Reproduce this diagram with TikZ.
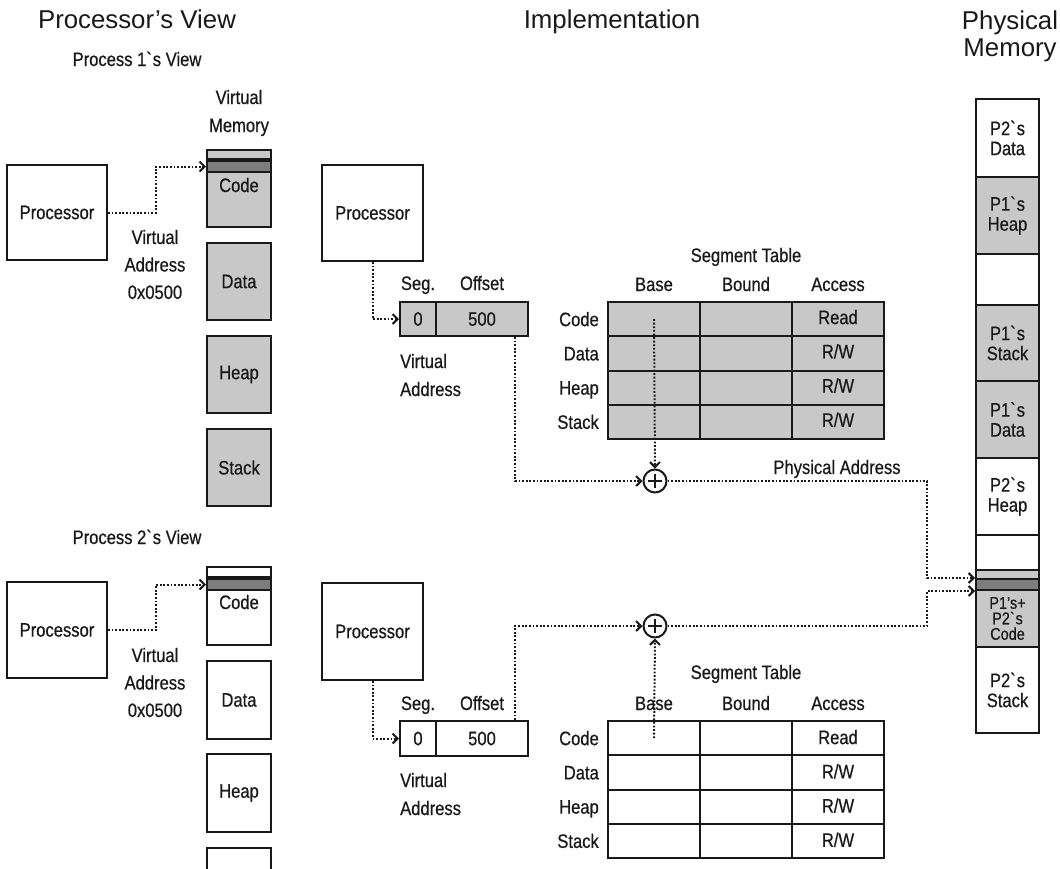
\documentclass[tikz,border=0pt]{standalone}
\usepackage{fontspec}
\setmainfont[FakeStretch=0.85,FakeBold=0.6]{Liberation Sans}
\newfontfamily\titlefont{Liberation Sans}
\usetikzlibrary{arrows.meta,calc}
\definecolor{lgray}{RGB}{200,200,200}
\definecolor{dgray}{RGB}{125,125,125}
\definecolor{ink}{RGB}{25,25,25}
\newcommand\rw{R/W}
\newcommand\bq{\textasciigrave}
\tikzset{
  txt/.style={font=\fontsize{19.5}{23}\selectfont, text=ink, inner sep=0pt},
  ttl/.style={font=\titlefont\fontsize{25.8}{30}\selectfont, text=ink, inner sep=0pt},
  bx/.style={draw=ink, line width=2pt, inner sep=0pt, font=\fontsize{19.5}{20}\selectfont, text=ink, align=center},
  gbx/.style={bx, fill=lgray},
  wbx/.style={bx, fill=white},
  dbx/.style={bx, fill=dgray},
  dots/.style={draw=ink, line width=2pt, dash pattern=on 1.8pt off 1.8pt},
  darr/.style={dots, -{Straight Barb[length=5pt,width=10pt,line width=2pt]}},
  plusnode/.style={draw=ink, line width=2pt, circle, minimum size=23pt, inner sep=0pt, fill=white},
  pm/.style={minimum width=63pt},
  cellg/.style={gbx, minimum width=92pt, minimum height=34.25pt},
  cellw/.style={wbx, minimum width=92pt, minimum height=34.25pt},
}
\begin{document}
\begin{tikzpicture}[x=1pt,y=-1pt]
\useasboundingbox (0,0) rectangle (1060,868);

% ---------- titles ----------
\node[ttl, anchor=base] (tProc) at (137,28) {Processor’s View};
\node[ttl, anchor=base] (tImpl) at (612,28) {Implementation};
\node[ttl, anchor=base] (tPhys1) at (1010,29) {Physical};
\node[ttl, anchor=base] (tPhys2) at (1010,56) {Memory};

% ---------- process 1 view ----------
\node[txt, anchor=base] (p1title) at (137,66) {Process 1\bq s View};
\node[txt, anchor=base] (p1vm1) at (239,104) {Virtual};
\node[txt, anchor=base] (p1vm2) at (239,132) {Memory};
\node[wbx, minimum width=100pt, minimum height=95pt] (p1proc) at (57,212.5) {Processor};
\node[gbx, minimum width=64pt, minimum height=77pt] (p1code) at (239,188.5) {};
\node[gbx, minimum width=64pt, minimum height=9pt, anchor=north] (p1strip) at (p1code.north) {};
\node[dbx, minimum width=64pt, minimum height=11pt, anchor=north] (p1band) at (p1strip.south) {};
\node[txt, anchor=base] (p1codel) at (239,192) {Code};
\node[gbx, minimum width=64pt, minimum height=77pt] (p1data) at (239,281.5) {Data};
\node[gbx, minimum width=64pt, minimum height=77pt] (p1heap) at (239,374.5) {Heap};
\node[gbx, minimum width=64pt, minimum height=77pt] (p1stack) at (239,467.5) {Stack};
\node[txt, align=center, font=\fontsize{19.5}{27.5}\selectfont] (p1va) at (155,264.5) {Virtual\\Address\\0x0500};
\draw[darr] (p1proc.east) -- ++(48,0) |- (p1band.west);

% ---------- process 2 view ----------
\node[txt, anchor=base] (p2title) at (137,544) {Process 2\bq s View};
\node[wbx, minimum width=100pt, minimum height=96pt] (p2proc) at (57,630) {Processor};
\node[wbx, minimum width=64pt, minimum height=78pt] (p2code) at (239,606) {};
\node[wbx, minimum width=64pt, minimum height=10pt, anchor=north] (p2strip) at (p2code.north) {};
\node[dbx, minimum width=64pt, minimum height=11pt, anchor=north] (p2band) at (p2strip.south) {};
\node[txt, anchor=base] (p2codel) at (239,609) {Code};
\node[wbx, minimum width=64pt, minimum height=78pt] (p2data) at (239,700) {Data};
\node[wbx, minimum width=64pt, minimum height=78pt] (p2heap) at (239,793) {Heap};
\begin{scope}
  \clip (0,0) rectangle (1060,868);
  \node[wbx, minimum width=64pt, minimum height=78pt] (p2stack) at (239,887) {};
\end{scope}
\node[txt, align=center, font=\fontsize{19.5}{27.5}\selectfont] (p2va) at (155,682.5) {Virtual\\Address\\0x0500};
\draw[darr] (p2proc.east) -- ++(48,0) |- (p2band.west);

% ---------- implementation, process 1 ----------
\node[wbx, minimum width=101pt, minimum height=96pt] (i1proc) at (372.5,213) {Processor};
\node[txt, anchor=base] (i1segl) at (418,290) {Seg.};
\node[txt, anchor=base] (i1offl) at (482,290) {Offset};
\node[gbx, minimum width=36pt, minimum height=34pt] (i1seg) at (418,319) {0};
\node[gbx, minimum width=92pt, minimum height=34pt] (i1off) at (482,319) {500};
\node[txt, anchor=base west] (i1va1) at (400,368) {Virtual};
\node[txt, anchor=base west] (i1va2) at (400,396) {Address};
\node[txt, anchor=base] (t1title) at (746,262) {Segment Table};
\node[txt, anchor=base] (t1h1) at (654,291) {Base};
\node[txt, anchor=base] (t1h2) at (746,291) {Bound};
\node[txt, anchor=base] (t1h3) at (838,291) {Access};
\foreach \lab/\acc [count=\i] in {Code/Read,Data/\rw,Heap/\rw,Stack/\rw}{
  \pgfmathsetmacro\yy{302+34.25*(\i-0.5)}
  \node[cellg] (ta\i-b) at (654,\yy) {};
  \node[cellg] (ta\i-d) at (746,\yy) {};
  \node[cellg] (ta\i-a) at (838,\yy) {};
  \node[txt] (ta\i-at) at (838,\yy-2) {\acc};
  \node[txt, anchor=base east] (ta\i-l) at (599,\yy+7) {\lab};
}
\node[plusnode] (i1plus) at (655,481) {};
\draw[ink, line width=1.8pt] ([xshift=-7pt]i1plus.center) -- ([xshift=7pt]i1plus.center)
  ([yshift=-7pt]i1plus.center) -- ([yshift=7pt]i1plus.center);
\node[txt, anchor=base] (physaddr) at (837,474) {Physical Address};

% ---------- implementation, process 2 ----------
\node[wbx, minimum width=101pt, minimum height=97pt] (i2proc) at (372.5,631.5) {Processor};
\node[txt, anchor=base] (i2segl) at (418,710) {Seg.};
\node[txt, anchor=base] (i2offl) at (482,710) {Offset};
\node[wbx, minimum width=36pt, minimum height=35pt] (i2seg) at (418,738.5) {0};
\node[wbx, minimum width=92pt, minimum height=35pt] (i2off) at (482,738.5) {500};
\node[txt, anchor=base west] (i2va1) at (400,787) {Virtual};
\node[txt, anchor=base west] (i2va2) at (400,815) {Address};
\node[txt, anchor=base] (t2title) at (746,679) {Segment Table};
\node[txt, anchor=base] (t2h1) at (654,710) {Base};
\node[txt, anchor=base] (t2h2) at (746,710) {Bound};
\node[txt, anchor=base] (t2h3) at (838,710) {Access};
\foreach \lab/\acc [count=\i] in {Code/Read,Data/\rw,Heap/\rw,Stack/\rw}{
  \pgfmathsetmacro\yy{721+34.25*(\i-0.5)}
  \node[cellw] (tb\i-b) at (654,\yy) {};
  \node[cellw] (tb\i-d) at (746,\yy) {};
  \node[cellw] (tb\i-a) at (838,\yy) {};
  \node[txt] (tb\i-at) at (838,\yy-1) {\acc};
  \node[txt, anchor=base east] (tb\i-l) at (599,\yy+7) {\lab};
}
\node[plusnode] (i2plus) at (655,626) {};
\draw[ink, line width=1.8pt] ([xshift=-7pt]i2plus.center) -- ([xshift=7pt]i2plus.center)
  ([yshift=-7pt]i2plus.center) -- ([yshift=7pt]i2plus.center);

% ---------- physical memory ----------
\node[wbx, pm, minimum height=78pt] (pm1) at (1007.5,138) {P2\bq s\\Data};
\node[gbx, pm, minimum height=77pt] (pm2) at (1007.5,215.5) {P1\bq s\\Heap};
\node[wbx, pm, minimum height=51pt] (pm3) at (1007.5,279.5) {};
\node[gbx, pm, minimum height=76pt] (pm4) at (1007.5,343) {P1\bq s\\Stack};
\node[gbx, pm, minimum height=77pt] (pm5) at (1007.5,419.5) {P1\bq s\\Data};
\node[wbx, pm, minimum height=77pt] (pm6) at (1007.5,496.5) {P2\bq s\\Heap};
\node[wbx, pm, minimum height=35pt] (pm7) at (1007.5,552.5) {};
\node[gbx, pm, minimum height=9pt] (pmstrip) at (1007.5,574.5) {};
\node[dbx, pm, minimum height=11pt] (pmband) at (1007.5,584.5) {};
\node[gbx, pm, minimum height=57pt, font=\fontsize{17}{15.5}\selectfont] (pm10) at (1007.5,618.5) {P1’s+\\P2\bq s\\Code};
\node[wbx, pm, minimum height=86pt] (pm11) at (1007.5,690) {P2\bq s\\Stack};

% ---------- connectors ----------
\draw[darr] (i1proc.south) |- (i1seg.west);
\draw[darr] ([xshift=33pt]i1off.south) |- (i1plus.west);
\draw[darr] (ta1-b.center) -- (i1plus.north);
\draw[darr] (i1plus.east) -| ([xshift=-48pt]pmband.north west) -- (pmband.north west);

\draw[darr] (i2proc.south) |- (i2seg.west);
\draw[darr] ([xshift=33pt]i2off.north) |- (i2plus.west);
\draw[darr] (tb1-b.center) -- (i2plus.south);
\draw[darr] (i2plus.east) -| ([xshift=-48pt]pmband.south west) -- (pmband.south west);
\end{tikzpicture}
\end{document}
